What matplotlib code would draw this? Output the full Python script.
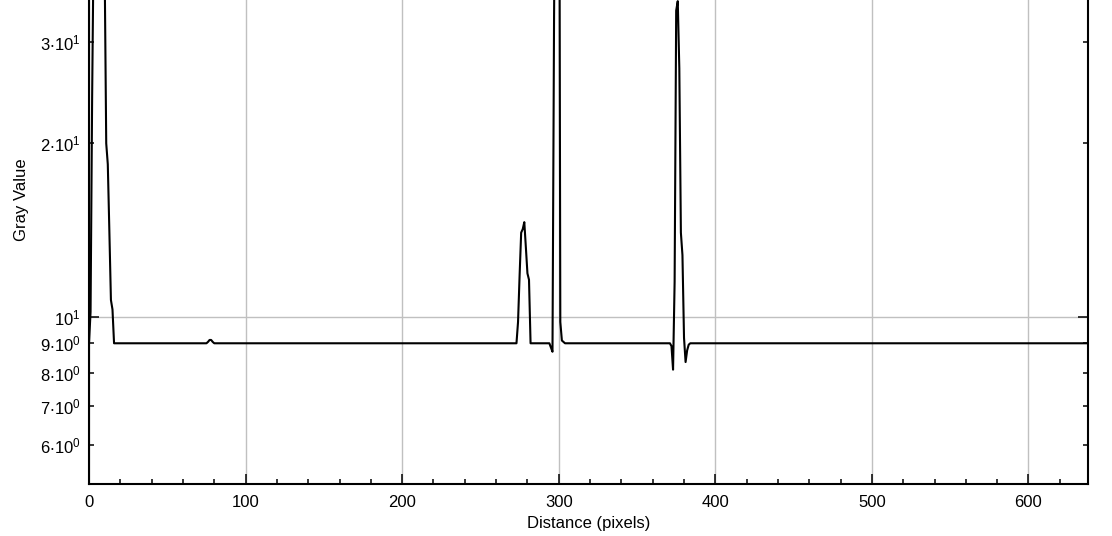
import matplotlib
matplotlib.use("Agg")
import matplotlib.pyplot as plt
from matplotlib.ticker import FixedLocator, FixedFormatter

plt.rcParams['font.family'] = ['Liberation Sans', 'DejaVu Sans']
plt.rcParams['mathtext.fontset'] = 'custom'
plt.rcParams['mathtext.rm'] = 'Liberation Sans'
plt.rcParams['mathtext.it'] = 'Liberation Sans'
plt.rcParams['mathtext.bf'] = 'Liberation Sans'

# profile data (distance in pixels, gray value)
distance = [0, 1, 2, 3, 4, 5, 6, 7, 8, 9, 10, 11, 12, 13, 14, 15, 16,
            75, 76, 77, 78, 79, 80,
            273, 274, 275, 276, 277, 278, 279, 280, 281, 282,
            294, 295, 296, 297, 298, 299, 300, 301, 302, 303, 304,
            371, 372, 373, 374, 375, 376, 377, 378, 379, 380, 381, 382, 383, 384,
            638]
gray = [9.0, 10.2, 24.0, 46.0, 70.0, 90.0, 100.0, 95.0, 85.0, 60.0, 40.3, 20.0, 18.4, 14.1, 10.7, 10.3, 9.0,
        9.0, 9.05, 9.12, 9.12, 9.05, 9.0,
        9.0, 9.8, 11.8, 14.0, 14.2, 14.6, 13.2, 11.9, 11.6, 9.0,
        9.0, 8.85, 8.7, 33.0, 80.0, 120.0, 200.0, 9.8, 9.1, 9.05, 9.0,
        9.0, 8.9, 8.1, 11.5, 34.0, 35.3, 27.0, 14.0, 12.8, 9.2, 8.35, 8.75, 8.95, 9.0,
        9.0]

x_major = [0, 100, 200, 300, 400, 500, 600]
x_labels = ['0', '100', '200', '300', '400', '500', '600']
y_major = [10]
y_major_labels = [r'$\mathregular{10^{1}}$']
y_minor = [6, 7, 8, 9, 20, 30]
y_minor_labels = [r'$\mathregular{6{\cdot}10^{0}}$', r'$\mathregular{7{\cdot}10^{0}}$',
                  r'$\mathregular{8{\cdot}10^{0}}$', r'$\mathregular{9{\cdot}10^{0}}$',
                  r'$\mathregular{2{\cdot}10^{1}}$', r'$\mathregular{3{\cdot}10^{1}}$']

W, H = 1112, 536
fig = plt.figure(figsize=(W / 100, H / 100), dpi=100)
left, right, bottom, top_px = 89, 1088, 484, -84
ax = fig.add_axes([left / W, (H - bottom) / H, (right - left) / W, (bottom - top_px) / H])

ax.plot(distance, gray, color='black', lw=1.5, zorder=3)
ax.set_yscale('log')
ax.set_xlim(0, 638)
ax.set_ylim(5.13, 49.6)

ax.xaxis.set_major_locator(FixedLocator(x_major))
ax.xaxis.set_major_formatter(FixedFormatter(x_labels))
ax.xaxis.set_minor_locator(FixedLocator([v for v in range(0, 640, 20) if v % 100]))
ax.yaxis.set_major_locator(FixedLocator(y_major))
ax.yaxis.set_major_formatter(FixedFormatter(y_major_labels))
ax.yaxis.set_minor_locator(FixedLocator(y_minor))
ax.yaxis.set_minor_formatter(FixedFormatter(y_minor_labels))

ax.tick_params(which='both', direction='in', labelsize=12, width=1.1,
               left=True, right=True, bottom=True, top=False)
ax.tick_params(which='major', length=7.2, pad=6)
ax.tick_params(which='minor', length=3.6, pad=6)
ax.tick_params(axis='x', which='both', pad=8)

ax.grid(True, which='major', color='#c0c0c0', lw=1.0)
for s in ['left', 'right', 'bottom']:
    ax.spines[s].set_linewidth(1.5)
ax.spines['top'].set_visible(False)

ax.set_xlabel('Distance (pixels)', fontsize=12, labelpad=4)
ax.set_ylabel('Gray Value', fontsize=12, labelpad=8)

fig.savefig('out.png', dpi=100)
